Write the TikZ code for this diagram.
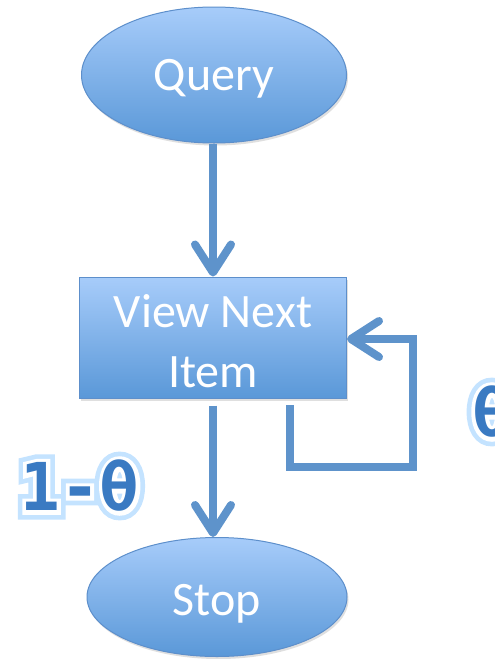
\documentclass[tikz,border=0pt]{standalone}
\usepackage{fontspec}
\setmainfont{Carlito}
\newfontfamily\lblfont{DejaVu Sans Mono}
\newfontfamily\lblglow{DejaVu Sans Mono}[BoldFeatures={FakeBold=26}]
\newfontfamily\lblwhite{DejaVu Sans Mono}[BoldFeatures={FakeBold=12}]
\usetikzlibrary{arrows.meta,shadows,shapes.geometric}
\definecolor{topblue}{HTML}{A7CCFA}
\definecolor{botblue}{HTML}{5A98D8}
\definecolor{edgeblue}{HTML}{5D8FCB}
\definecolor{arrowblue}{HTML}{5E93CB}
\definecolor{glowblue}{HTML}{C4E3FF}
\definecolor{txtblue}{HTML}{3A7AC2}
\tikzset{
  shape3d/.style={draw=edgeblue, line width=1pt, top color=topblue, bottom color=botblue,
    drop shadow={opacity=0.25, shadow xshift=1.5pt, shadow yshift=-2.5pt}},
  boxtext/.style={text=white, font=\fontsize{48}{60}\selectfont, inner sep=0pt, align=center},
  flow/.style={draw=arrowblue, line width=8pt,
    -{Straight Barb[length=28pt, width=36pt, round]}},
  lbl/.style={inner sep=0pt},
}
\newcommand\glowlabel[3]{%
  \node[lbl, text=glowblue, font=\lblglow\bfseries\fontsize{66}{66}\selectfont] at (#1) {#3};
  \node[lbl, text=white, font=\lblwhite\bfseries\fontsize{66}{66}\selectfont] at (#1) {#3};
  \node[lbl, text=txtblue, font=\lblfont\bfseries\fontsize{66}{66}\selectfont] (#2) at (#1) {#3};%
}
\begin{document}
\begin{tikzpicture}[x=1pt, y=-1pt]
\useasboundingbox (0,0) rectangle (495,659);
\fill[white] (0,0) rectangle (495,659);
\node[shape3d, ellipse, minimum width=265pt, minimum height=136pt] (query) at (214,75) {};
\node[boxtext] (querytext) at (214,79) {Query};
\node[shape3d, rectangle, minimum width=267pt, minimum height=121pt] (view) at (213,337.5) {};
\node[boxtext] (viewtext) at (213,341) {View Next\\Item};
\node[shape3d, ellipse, minimum width=260pt, minimum height=119pt] (stop) at (217,597) {};
\node[boxtext] (stoptext) at (217,604) {Stop};
\draw[flow] (query.south -| view.north) -- (view.north);
\draw[flow, shorten <=7pt] (view.south) -- (view.south |- stop.north);
\coordinate (lstart) at (290,398);
\coordinate (lc1) at (290,467);
\coordinate (lc2) at (413,467);
\coordinate (lc3) at (413,339);
\coordinate (lend) at (view.east |- lc3);
\draw[flow, shorten <=7pt, line join=miter] (lstart) -- (lc1) -- (lc2) -- (lc3) -- (lend);
\coordinate (oneTheta) at (80,486);
\coordinate (theta) at (492,412);
\glowlabel{oneTheta}{lblA}{1-θ}
\glowlabel{theta}{lblB}{θ}
\end{tikzpicture}
\end{document}
